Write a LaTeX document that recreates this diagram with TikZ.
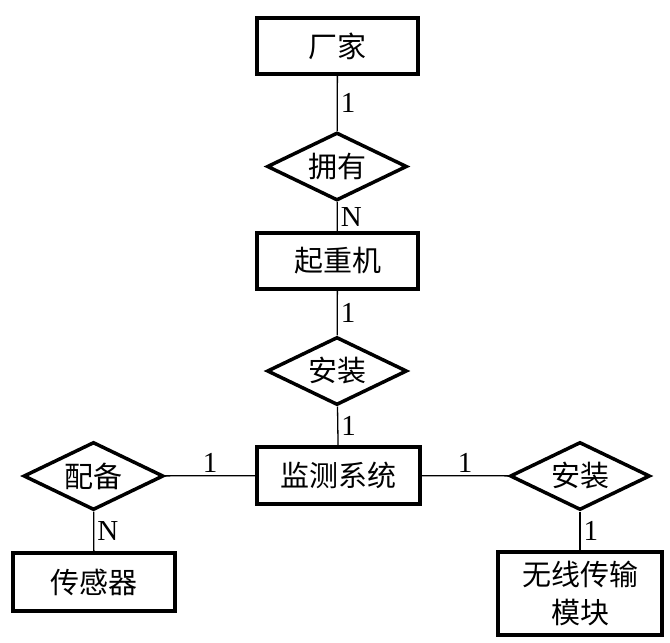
\documentclass[tikz,border=0pt]{standalone}
\usepackage{fontspec}
\setmainfont{Liberation Serif}
\newfontfamily\cjk{Noto Sans CJK SC}
\usetikzlibrary{shapes.geometric}
\begin{document}
\begin{tikzpicture}[x=1pt,y=-1pt,
  entity/.style={draw, line width=3.5pt, minimum width=161pt, minimum height=56pt, inner sep=0pt, font=\cjk\fontsize{29}{32}\selectfont, align=center},
  rel/.style={draw, diamond, aspect=2, line width=3.5pt, minimum width=140pt, minimum height=68pt, inner sep=0pt, font=\cjk\fontsize{29}{32}\selectfont},
  conn/.style={line width=1.3pt},
  card/.style={font=\fontsize{29}{30}\selectfont, inner sep=3pt}]
\useasboundingbox (0,0) rectangle (670,643);
\node[entity] (cj) at (337.5,46) {厂家};
\node[rel] (yy) at (337,166.5) {拥有};
\node[entity] (qzj) at (337.5,261) {起重机};
\node[rel] (az1) at (337,371) {安装};
\node[entity, minimum width=163pt, minimum height=57pt] (jc) at (338.5,475.5) {监测系统};
\node[rel] (pb) at (93.5,476) {配备};
\node[rel] (az2) at (580,476) {安装};
\node[entity, minimum width=162pt, minimum height=58pt] (cgq) at (94,582) {传感器};
\node[entity, minimum width=164pt, minimum height=83pt, font=\cjk\fontsize{29}{38}\selectfont] (wx) at (580,593.5) {无线传输\\模块};
\draw[conn] (cj) -- node[card, right] {1} (yy);
\draw[conn] (yy) -- node[card, right] {N} (qzj);
\draw[conn] (qzj) -- node[card, right] {1} (az1);
\draw[conn] (az1) -- node[card, right] {1} (jc);
\draw[conn] (pb) -- node[card, above] {1} (jc);
\draw[conn] (jc) -- node[card, above] {1} (az2);
\draw[conn] (pb) -- node[card, right] {N} (cgq);
\draw[conn] (az2) -- node[card, right] {1} (wx);
\end{tikzpicture}
\end{document}
